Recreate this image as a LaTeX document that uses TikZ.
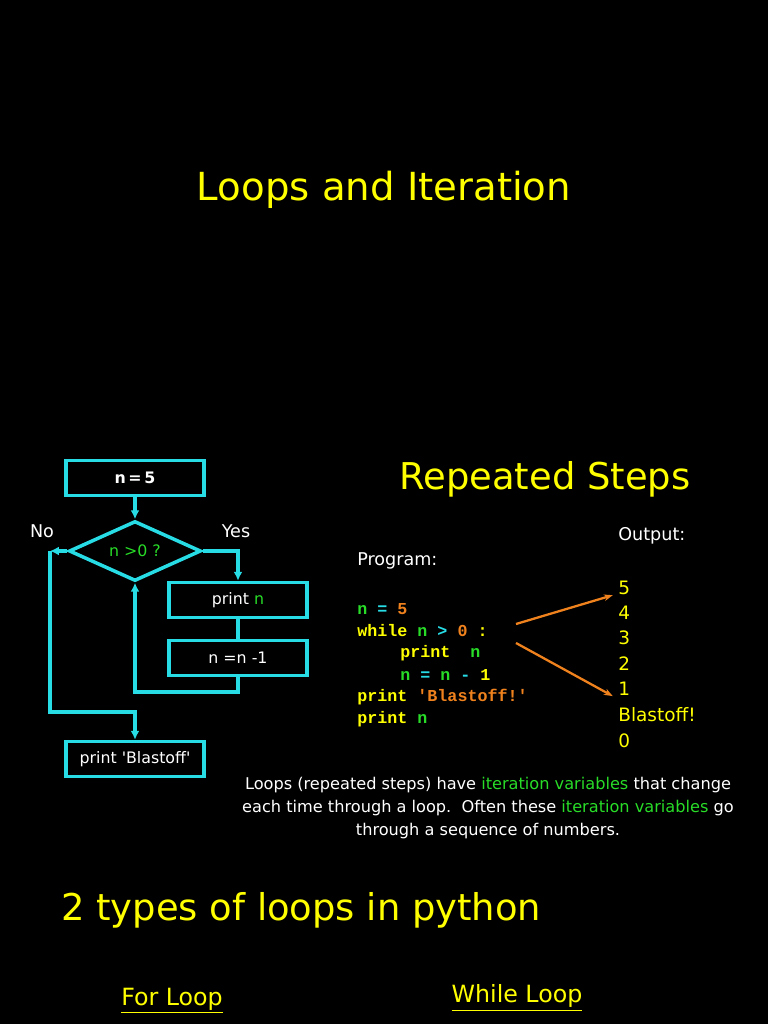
\documentclass[tikz,border=0pt]{standalone}
\usepackage{fontspec}
\setmainfont{DejaVu Sans}
\setmonofont{Liberation Mono}
\usetikzlibrary{arrows.meta,shapes.geometric,positioning}
\definecolor{fcyan}{RGB}{40,220,230}
\definecolor{fyel}{RGB}{255,255,0}
\definecolor{fgrn}{RGB}{40,220,40}
\definecolor{forg}{RGB}{240,130,30}
\newcommand{\sq}{\textquotesingle}
\tikzset{
	x=0.02cm,y=-0.02cm,
	box/.style ={draw=fcyan, line width=2pt, minimum width=2.76cm, minimum height=0.7cm, text=white, font=\fontsize{9}{10}\selectfont, inner sep=0pt},
	cond/.style ={diamond, draw=fcyan, line width=2pt, aspect=2.2, minimum width=2.64cm, minimum height=1.2cm, inner sep=0pt, font=\fontsize{9}{10}\selectfont},
	flow/.style ={draw=fcyan, line width=1.8pt, -{Latex[length=5pt,width=5pt]}},
	big/.style ={text=fyel, font=\fontsize{21}{24}\selectfont},
	txt/.style ={text=white, font=\fontsize{10}{12}\selectfont, inner sep=0pt},
	code/.style ={font=\ttfamily\bfseries\fontsize{9.5}{10}\selectfont, anchor=west, inner sep=0pt},
	outp/.style ={text=fyel, font=\fontsize{10.5}{12}\selectfont, anchor=west, inner sep=0pt},
	hint/.style ={draw=forg, line width=1.3pt, -{Stealth[length=5pt]}}
}
\begin{document}
\begin{tikzpicture}
	\fill[black] (0,0) rectangle (768,1024);
	\useasboundingbox (0,0) rectangle (768,1024);
	\node[big, font=\fontsize{22}{24}\selectfont] (title) at (384,190) {Loops and Iteration};
	\node[big] (steps) at (545,479) {Repeated Steps};
	\node[big, anchor=west] (types) at (55,910) {2 types of loops in python};
	\node[big, font=\fontsize{13.5}{16}\selectfont] (for) at (172,1001) {\underline{For Loop}};
	\node[big, font=\fontsize{13.5}{16}\selectfont] (while) at (517,998) {\underline{While Loop}};
	
	% flowchart
	\node[box, font=\bfseries\fontsize{9}{10}\selectfont] (init) at (135,478) {n\,=\,5};
	\node[cond] (test) at (135,551) {\textcolor{fgrn}{n >0 ?}};
	\node[box] (prn) at (238,600) {print \textcolor{fgrn}{n}};
	\node[box] (dec) at (238,658) {n =n -1};
	\node[box] (blast) at (135,759) {print \sq Blastoff\sq};
	\node[txt] (no) at (42,531) {No};
	\node[txt] (yes) at (236,531) {Yes};
	\coordinate (back) at (238,692);
	\coordinate (left) at (50,551);
	\coordinate (down) at (50,712);
	
	\draw[flow] (init) -- (test);
	\draw[flow] (test.east) -| (prn.north);
	\draw[draw=fcyan, line width=1.8pt] (prn) -- (dec);
	\draw[flow] (dec.south) -- (back) -| (test.south);
	\draw[flow] (test.west) -- (left);
	\draw[flow] (left) -- (down) -| (blast.north);
	
	% program
	\node[txt, anchor=west] (prog) at (357,561) {Program:};
	\node[code] (c1) at (357,609) {\textcolor{fgrn}{n} \textcolor{fcyan}{=} \textcolor{forg}{5}};
	\node[code] (c2) at (357,631) {\textcolor{fyel}{while} \textcolor{fgrn}{n} \textcolor{fcyan}{>} \textcolor{forg}{0} \textcolor{fyel}{:}};
	\node[code] (c3) at (400,653) {\textcolor{fyel}{print}~ \textcolor{fgrn}{n}};
	\node[code] (c4) at (400,675) {\textcolor{fgrn}{n} \textcolor{fcyan}{=} \textcolor{fgrn}{n} \textcolor{fcyan}{-} \textcolor{fyel}{1}};
	\node[code] (c5) at (357,697) {\textcolor{fyel}{print} \textcolor{forg}{\sq Blastoff!\sq}};
	\node[code] (c6) at (357,719) {\textcolor{fyel}{print} \textcolor{fgrn}{n}};
	
	% output
	\node[txt, anchor=west] (outl) at (618,536) {Output:};
	\node[outp] (o5) at (618,588) {5};
	\node[outp] (o4) at (618,613) {4};
	\node[outp] (o3) at (618,638) {3};
	\node[outp] (o2) at (618,664) {2};
	\node[outp] (o1) at (618,689) {1};
	\node[outp] (ob) at (618,715) {Blastoff!};
	\node[outp] (o0) at (618,741) {0};
	\coordinate (a1) at (516,624);
	\coordinate (a2) at (516,643);
	\draw[hint] (a1) -- ([xshift=-3pt]o5.south west);
	\draw[hint] (a2) -- ([xshift=-3pt]o1.south west);
	
	\node[txt, align=center, font=\fontsize{9.2}{13}\selectfont] (para) at (488,808)
		{Loops (repeated steps) have \textcolor{fgrn}{iteration variables} that change\\
		 each time through a loop.\ \ Often these \textcolor{fgrn}{iteration variables} go\\
		 through a sequence of numbers.};
\end{tikzpicture}
\end{document}
